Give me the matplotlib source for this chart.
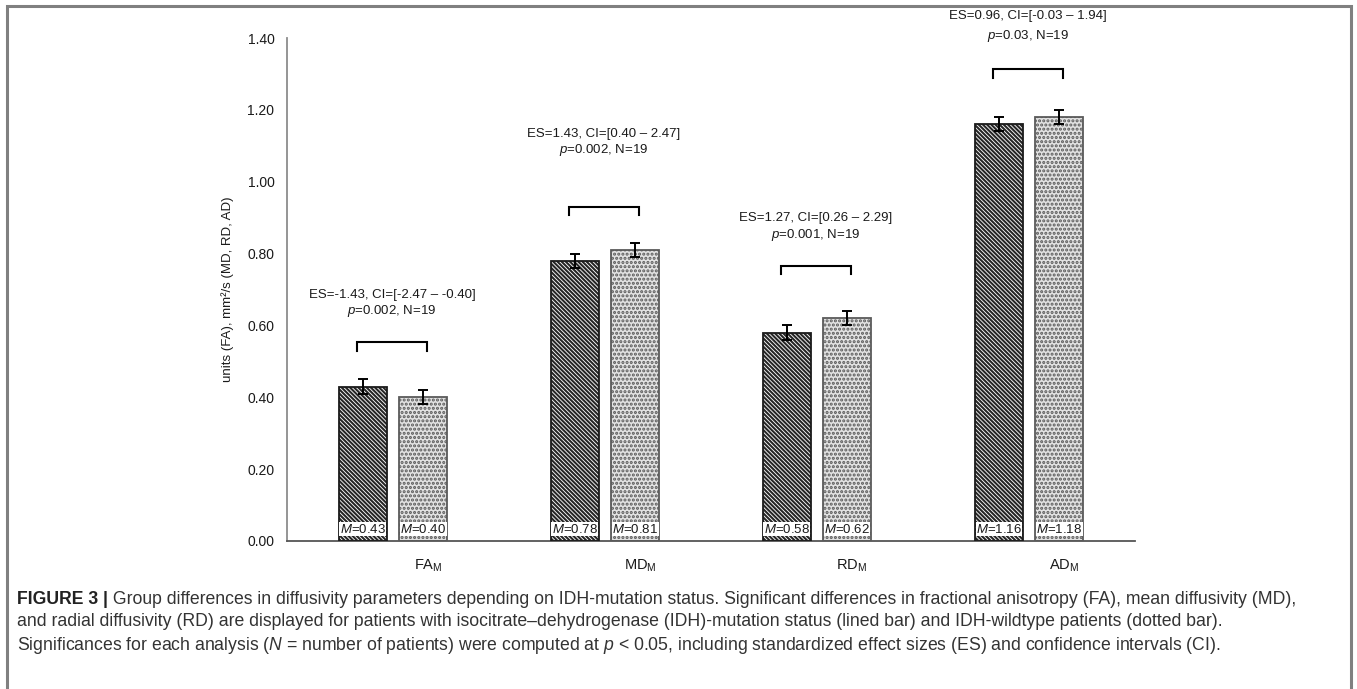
import matplotlib
matplotlib.use('Agg')
import matplotlib.pyplot as plt
import numpy as np
from matplotlib import font_manager as fm
from matplotlib.patches import Rectangle

names = {f.name for f in fm.fontManager.ttflist}
CAP_FONT = 'Liberation Sans Narrow' if 'Liberation Sans Narrow' in names else 'Liberation Sans'
plt.rcParams['font.family'] = ['Liberation Sans', 'DejaVu Sans']
plt.rcParams['mathtext.fontset'] = 'custom'
plt.rcParams['mathtext.rm'] = 'Liberation Sans'
plt.rcParams['mathtext.it'] = 'Liberation Sans:italic'
plt.rcParams['mathtext.bf'] = 'Liberation Sans:bold'
plt.rcParams['hatch.linewidth'] = 1.5

# ---------------- data ----------------
categories = ['FA', 'MD', 'RD', 'AD']
idh_mutant = [0.43, 0.78, 0.58, 1.16]
idh_wildtype = [0.40, 0.81, 0.62, 1.18]
err_mutant = [0.02, 0.02, 0.02, 0.02]
err_wildtype = [0.02, 0.02, 0.02, 0.02]
es_values = ['-1.43', '1.43', '1.27', '0.96']
ci_low = ['-2.47', '0.40', '0.26', '-0.03']
ci_high = ['-0.40', '2.47', '2.29', '1.94']
p_values = ['0.002', '0.002', '0.001', '0.03']
n_patients = [19, 19, 19, 19]
y_ticks = [0.0, 0.2, 0.4, 0.6, 0.8, 1.0, 1.2, 1.4]

# ---------------- layout ----------------
bracket_y = [0.553, 0.93, 0.766, 1.314]
es_y = [0.686, 1.134, 0.899, 1.461]
p_y = [0.639, 1.087, 0.852, 1.406]
label_offset = 0.165

W, H = 1357, 689
fig = plt.figure(figsize=(W / 100, H / 100), dpi=100)
ax = fig.add_axes([287 / W, 1 - 541 / H, 848 / W, 503 / H])

x = np.arange(len(categories)) + 0.5
off = 0.142
bw = 0.23

# lined bars (IDH-mutant)
ax.bar(x - off, idh_mutant, bw, color='white', edgecolor='#262626', hatch='\\' * 8, linewidth=0, zorder=2)
ax.bar(x - off, idh_mutant, bw, color='none', edgecolor='#1a1a1a', linewidth=1.3, zorder=3)
# dotted bars (IDH-wildtype)
ax.bar(x + off, idh_wildtype, bw, color='#e2e2e2', edgecolor='#5a5a5a', hatch='....', linewidth=0, zorder=2)
ax.bar(x + off, idh_wildtype, bw, color='none', edgecolor='#5a5a5a', linewidth=1.3, zorder=3)

ax.errorbar(x - off, idh_mutant, yerr=err_mutant, fmt='none', ecolor='black', elinewidth=1.4, capsize=3.5, capthick=1.4, zorder=4)
ax.errorbar(x + off, idh_wildtype, yerr=err_wildtype, fmt='none', ecolor='black', elinewidth=1.4, capsize=3.5, capthick=1.4, zorder=4)

# M= labels at the base of the bars
for xi, v in zip(x - off, idh_mutant):
    ax.text(xi, 0.033, r'$M$=%.2f' % v, ha='center', va='center', fontsize=9.5, color='#1a1a1a', zorder=5,
            bbox=dict(facecolor='white', edgecolor='none', pad=0.25))
for xi, v in zip(x + off, idh_wildtype):
    ax.text(xi, 0.033, r'$M$=%.2f' % v, ha='center', va='center', fontsize=9.5, color='#1a1a1a', zorder=5,
            bbox=dict(facecolor='white', edgecolor='none', pad=0.25))

# significance brackets and texts
d = 0.024
for i in range(len(categories)):
    xl, xr = x[i] - off - 0.03, x[i] + off + 0.02
    yb = bracket_y[i]
    ax.plot([xl, xl, xr, xr], [yb - d, yb, yb, yb - d], color='black', lw=1.5, zorder=4,
            solid_joinstyle='miter', clip_on=False)
    xc = (xl + xr) / 2
    ax.text(xc, es_y[i], 'ES=%s, CI=[%s \u2013 %s]' % (es_values[i], ci_low[i], ci_high[i]),
            ha='center', va='center', fontsize=9.5, color='#1a1a1a', clip_on=False)
    ax.text(xc, p_y[i], r'$p$=%s, N=%d' % (p_values[i], n_patients[i]),
            ha='center', va='center', fontsize=9.5, color='#1a1a1a', clip_on=False)

ax.set_xlim(0, len(categories))
ax.set_ylim(0, 1.4)
ax.set_yticks(y_ticks)
ax.set_yticklabels(['%.2f' % t for t in y_ticks], fontsize=10, color='#1a1a1a')
ax.tick_params(axis='y', length=0, pad=9)
ax.set_xticks(x + label_offset)
ax.set_xticklabels([c + r'$_\mathregular{M}$' for c in categories], fontsize=10.5, color='#1a1a1a')
ax.tick_params(axis='x', length=0, pad=12)
for s in ['top', 'right']:
    ax.spines[s].set_visible(False)
ax.spines['left'].set_color('#8c8c8c')
ax.spines['left'].set_linewidth(1.3)
ax.spines['bottom'].set_color('#555555')
ax.spines['bottom'].set_linewidth(1.3)
ax.set_ylabel('units (FA), mm\u00b2/s (MD, RD, AD)', fontsize=9.5, color='#1a1a1a')
ax.yaxis.set_label_coords(-0.062, 0.5)

# outer frame
fig.patches.append(Rectangle((7 / W, -0.05), (1351 - 7) / W, 1 - 6 / H + 0.05, transform=fig.transFigure,
                             fill=False, edgecolor='#808080', linewidth=2.2))

# caption
cap_bold = 'FIGURE 3 |'
cap_lines = [
    ' Group differences in diffusivity parameters depending on IDH-mutation status. Significant differences in fractional anisotropy (FA), mean diffusivity (MD),',
    'and radial diffusivity (RD) are displayed for patients with isocitrate\u2013dehydrogenase (IDH)-mutation status (lined bar) and IDH-wildtype patients (dotted bar).',
    'Significances for each analysis ($N$ = number of patients) were computed at $p$ < 0.05, including standardized effect sizes (ES) and confidence intervals (CI).',
]
renderer = fig.canvas.get_renderer()
x0 = 17
target_end = 1296
fs = 12.0
tb = fig.text(x0 / W, 0, cap_bold, fontsize=fs, fontweight='bold', family=CAP_FONT)
t1 = fig.text(0, 0, cap_lines[0], fontsize=fs, family=CAP_FONT)
wb = tb.get_window_extent(renderer).width
w1 = t1.get_window_extent(renderer).width
fs = fs * (target_end - x0) / (wb + w1)
tb.remove(); t1.remove()
line_y = [600, 622, 645]
tb = fig.text(x0 / W, 1 - line_y[0] / H, cap_bold, fontsize=fs, fontweight='bold', family=CAP_FONT,
              color='#222222', va='center')
wb = tb.get_window_extent(renderer).width
fig.text((x0 + wb) / W, 1 - line_y[0] / H, cap_lines[0], fontsize=fs, family=CAP_FONT, color='#333333', va='center')
for ly, txt in zip(line_y[1:], cap_lines[1:]):
    fig.text(x0 / W, 1 - ly / H, txt, fontsize=fs, family=CAP_FONT, color='#333333', va='center')

fig.savefig('out.png', dpi=100)
